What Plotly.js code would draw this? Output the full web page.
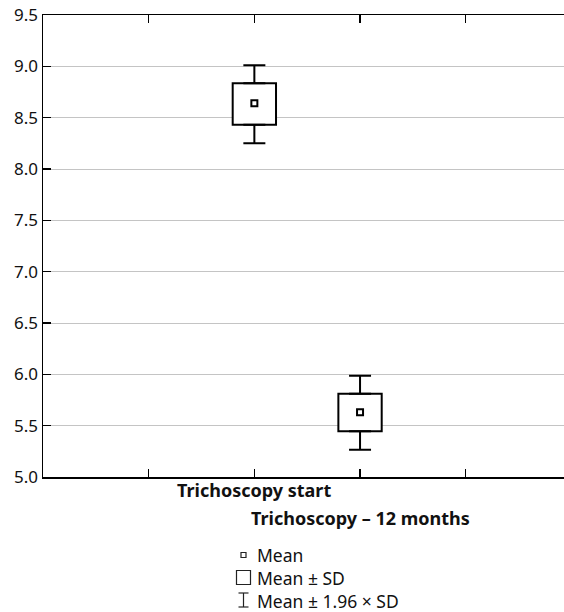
<!DOCTYPE html>
<html>
<head>
<meta charset="utf-8">
<script src="https://cdn.plot.ly/plotly-3.0.1.min.js"></script>
<style>html,body{margin:0;padding:0;overflow:hidden;background:#fff;}#chart{width:564px;height:612px;}</style>
</head>
<body>
<div id="chart"></div>
<script>
// Data
const categories = ["Trichoscopy start", "Trichoscopy \u2013 12 months"];
const catPos = [1, 2];
const means = [8.64, 5.63];
const sdLow = [8.43, 5.445];
const sdHigh = [8.835, 5.81];
const ciLow = [8.25, 5.265];
const ciHigh = [9.01, 5.985];
const yTicks = [5.0, 5.5, 6.0, 6.5, 7.0, 7.5, 8.0, 8.5, 9.0, 9.5];
const legendLabels = ["Mean", "Mean \u00b1 SD", "Mean \u00b1 1.96 \u00d7 SD"];

const FONT = "Noto Sans";

const boxTrace = {
  type: 'bar', x: catPos, base: sdLow,
  y: sdHigh.map((h, i) => h - sdLow[i]),
  width: 0.41,
  marker: {color: 'rgba(255,255,255,1)', line: {color: '#000', width: 2}},
  showlegend: false, hoverinfo: 'skip'
};
const upperWhisker = {
  type: 'scatter', mode: 'none', x: catPos, y: sdHigh,
  error_y: {type: 'data', symmetric: false, array: ciHigh.map((c, i) => c - sdHigh[i]), arrayminus: catPos.map(() => 0), color: '#000', thickness: 2, width: 11},
  showlegend: false, hoverinfo: 'skip'
};
const lowerWhisker = {
  type: 'scatter', mode: 'none', x: catPos, y: sdLow,
  error_y: {type: 'data', symmetric: false, array: catPos.map(() => 0), arrayminus: sdLow.map((s, i) => s - ciLow[i]), color: '#000', thickness: 2, width: 11},
  showlegend: false, hoverinfo: 'skip'
};
const meanTrace = {
  type: 'scatter', mode: 'markers', x: catPos, y: means,
  marker: {symbol: 'square-open', size: 6, color: '#000', line: {width: 2, color: '#000'}},
  showlegend: false, hoverinfo: 'skip'
};

const annotations = [];
// category labels (staggered)
categories.forEach((c, i) => {
  annotations.push({
    text: '<b>' + c + '</b>', x: catPos[i], xref: 'x', y: 0, yref: 'paper',
    xanchor: 'center', yanchor: 'middle', yshift: -13 - i * 28, showarrow: false,
    font: {family: FONT, size: 18, color: '#111'}
  });
});
// legend (one text block, three lines)
const rowShift = [-78, -100.5, -123];
annotations.push({
  text: legendLabels.join('<br>'), x: (255 - 43) / 521, xref: 'paper', y: 0, yref: 'paper',
  xanchor: 'left', yanchor: 'middle', yshift: rowShift[1], showarrow: false, align: 'left',
  font: {family: FONT, size: 17.5, color: '#111'}
});

const shapes = [];
const legX = (243.5 - 43) / 521;
function pshape(i, x0, y0, x1, y1, type) {
  return {type: type, xref: 'paper', yref: 'paper', xsizemode: 'pixel', ysizemode: 'pixel',
    xanchor: legX, yanchor: 0, x0: x0, x1: x1, y0: rowShift[i] + y0, y1: rowShift[i] + y1,
    line: {color: '#222', width: 1.2}, fillcolor: 'rgba(0,0,0,0)'};
}
shapes.push(pshape(0, -2.5, -2.5, 2.5, 2.5, 'rect'));
shapes.push(pshape(1, -7, -7, 7, 7, 'rect'));
shapes.push(pshape(2, 0, -7, 0, 7, 'line'));
shapes.push(pshape(2, -5, 7, 5, 7, 'line'));
shapes.push(pshape(2, -5, -7, 5, -7, 'line'));

const layout = {
  width: 564, height: 612,
  margin: {l: 43, r: 0, t: 15, b: 135},
  paper_bgcolor: '#fff', plot_bgcolor: '#fff',
  showlegend: false,
  xaxis: {
    range: [-1, 3.93], tickvals: [0, 1, 2, 3], ticktext: ['', '', '', ''],
    ticks: 'inside', ticklen: 8, tickwidth: 1.5, tickcolor: '#000',
    showline: true, linecolor: '#000', linewidth: 1.5, mirror: 'ticks',
    showgrid: false, zeroline: false, fixedrange: true
  },
  yaxis: {
    range: [5.0, 9.5], tickvals: yTicks, ticktext: yTicks.map(v => v.toFixed(1)),
    ticks: 'inside', ticklen: 8, tickwidth: 1.5, tickcolor: '#000',
    showline: true, linecolor: '#000', linewidth: 1.5,
    showgrid: true, gridcolor: '#c4c4c4', gridwidth: 1, zeroline: false,
    tickfont: {family: FONT, size: 17, color: '#111'}, fixedrange: true
  },
  barmode: 'overlay',
  annotations: annotations,
  shapes: shapes
};

Plotly.newPlot('chart', [boxTrace, upperWhisker, lowerWhisker, meanTrace], layout, {staticPlot: true, displayModeBar: false});
</script>
</body>
</html>
